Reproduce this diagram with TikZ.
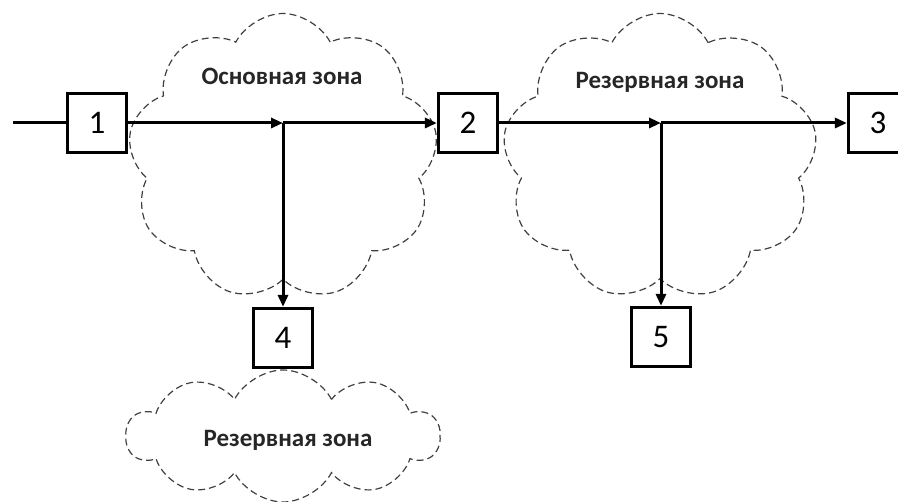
\documentclass[tikz,border=0pt]{standalone}
\usepackage{fontspec}
\setmainfont{Carlito}
\usetikzlibrary{shapes.symbols,arrows.meta}
\begin{document}
\begin{tikzpicture}[x=1pt,y=-1pt,
  box/.style={draw, line width=3.2pt, fill=white, minimum size=59pt, inner sep=0pt, font=\fontsize{33}{33}\selectfont},
  zone/.style={cloud, cloud puffs=9, cloud puff arc=125, draw=black!75, line width=1.2pt, dash pattern=on 7pt off 4pt, inner sep=0pt},
  zonetext/.style={font=\fontsize{25}{25}\selectfont\bfseries, text=black!85},
  arr/.style={line width=3pt, -{Triangle[length=12pt,width=10pt]}},
  ln/.style={line width=3pt}]
\useasboundingbox (0,0) rectangle (898,502);
% clouds
\node[zone, minimum width=310pt, minimum height=287pt] (c1) at (283,157) {};
\node[zone, minimum width=315pt, minimum height=287pt] (c2) at (660,157) {};
\node[zone, cloud puffs=10, aspect=2.4, minimum width=313pt, minimum height=132pt] (c3) at (283,436) {};
\node[zonetext] (t1) at (282,76) {Основная зона};
\node[zonetext] (t2) at (660,82) {Резервная зона};
\node[zonetext] (t3) at (288,440) {Резервная зона};
% junctions
\coordinate (s) at (13,123);
\coordinate (j1) at (283,123);
\coordinate (j2) at (661,123);
% boxes
\node[box] (b1) at (97,123) {1};
\node[box] (b2) at (468,123) {2};
\node[box] (b3) at (878,123) {3};
\node[box] (b4) at (283,338) {4};
\node[box] (b5) at (661,337) {5};
% connectors
\draw[ln] (s) -- (b1);
\draw[arr] (b1) -- (j1);
\draw[arr] (j1) -- (b2);
\draw[arr] (j1) -- (b4);
\draw[arr] (b2) -- (j2);
\draw[arr] (j2) -- (b3);
\draw[arr] (j2) -- (b5);
\end{tikzpicture}
\end{document}
